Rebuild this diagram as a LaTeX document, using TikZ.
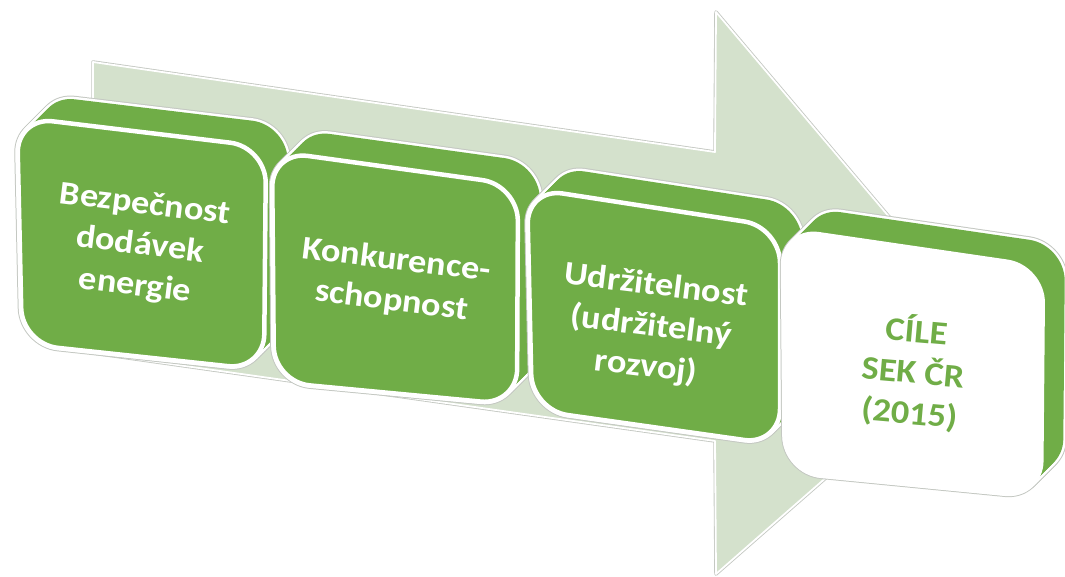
\documentclass[tikz,border=0pt]{standalone}
\usepackage{fontspec}
\setmainfont{Carlito}
\newfontfamily\lblfont[FakeStretch=1.1]{Carlito}
\definecolor{boxgreen}{HTML}{70AD47}
\definecolor{arrowfill}{HTML}{D4E1CC}
\definecolor{rimgray}{HTML}{C4C8C2}
\tikzset{
  blk/.style={rounded corners=36pt},
  rimouter/.style={blk, draw=rimgray, line width=7pt},
  riminner/.style={blk, draw=white, line width=5pt},
  lbl/.style={align=center, text=white, font=\lblfont\fontsize{33}{41}\selectfont\bfseries, inner sep=0pt},
  lblg/.style={lbl, text=boxgreen}
}
\newcommand\drawblock[5]{%
  \foreach \k in {0,2,...,22}{\draw[rimouter, shift={(\k,-\k)}] #1 -- #2 -- #3 -- #4 -- cycle;}
  \foreach \k in {0,2,...,22}{\draw[riminner, shift={(\k,-\k)}] #1 -- #2 -- #3 -- #4 -- cycle;}
  \foreach \k in {2,4,...,22}{\fill[blk, boxgreen, shift={(\k,-\k)}] #1 -- #2 -- #3 -- #4 -- cycle;}
  \filldraw[blk, fill=#5, draw=white, line width=4.5pt] #1 -- #2 -- #3 -- #4 -- cycle;
}
\begin{document}
\begin{tikzpicture}[x=1pt, y=-1pt]
\useasboundingbox (0,0) rectangle (1065,576);
% big background arrow
\coordinate (aTL) at (93,62);
\coordinate (aNT) at (715,152);
\coordinate (aHT) at (716,12);
\coordinate (aTip) at (989,335);
\coordinate (aHB) at (716,574);
\coordinate (aNB) at (715,441);
\coordinate (aBL) at (93,353);
\draw[rimgray, line width=3.5pt, line join=round] (aTL) -- (aNT) -- (aHT) -- (aTip) -- (aHB) -- (aNB) -- (aBL) -- cycle;
\filldraw[fill=arrowfill, draw=white, line width=1.8pt, line join=round] (aTL) -- (aNT) -- (aHT) -- (aTip) -- (aHB) -- (aNB) -- (aBL) -- cycle;
% blocks
\drawblock{(17,117)}{(266,147)}{(264,370)}{(22,344)}{boxgreen}
\node[lbl, rotate=-7] (t1) at (140,246) {Bezpečnost\\dodávek\\energie};
\drawblock{(272,151)}{(518,185)}{(517,405)}{(274,382)}{boxgreen}
\node[lbl, rotate=-7] (t2) at (394,281) {Konkurence-\\schopnost};
\drawblock{(527,188)}{(780,227)}{(780,445)}{(532,410)}{boxgreen}
\node[lbl, rotate=-7] (t3) at (651,327) {Udržitelnost\\(udržitelný\\rozvoj)};
\drawblock{(783,229)}{(1043,267)}{(1041,497)}{(785,472)}{white}
\node[lblg, rotate=-5] (t4) at (913,372) {CÍLE\\SEK ČR\\(2015)};
\end{tikzpicture}
\end{document}
